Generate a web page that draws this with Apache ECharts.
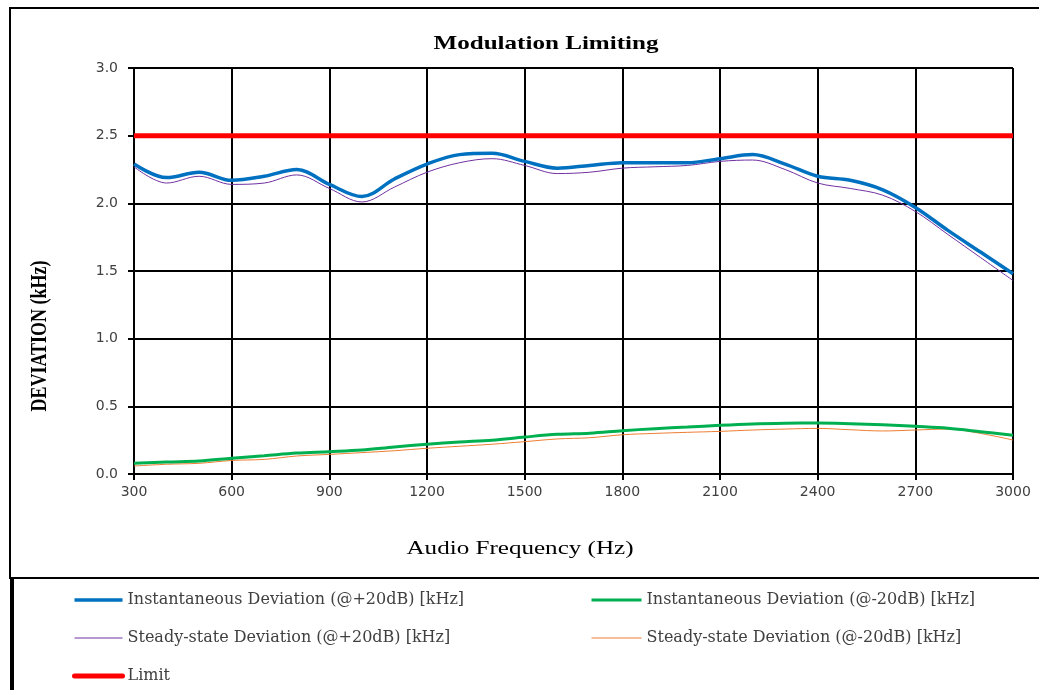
<!DOCTYPE html>
<html><head><meta charset="utf-8">
<script src="https://cdn.jsdelivr.net/npm/echarts@6/dist/echarts.min.js"></script>
<style>html,body{margin:0;padding:0;background:#fff}#c{width:1039px;height:690px}</style>
</head><body><div id="c"></div>
<script>
const freqs = [300,400,500,600,700,800,900,1000,1100,1200,1300,1400,1500,1600,1700,1800,1900,2000,2100,2200,2300,2400,2500,2600,2700,2800,2900,3000];
const instPlus20 = [2.29,2.19,2.23,2.17,2.20,2.25,2.14,2.05,2.18,2.29,2.36,2.37,2.31,2.26,2.28,2.30,2.30,2.30,2.33,2.36,2.29,2.20,2.17,2.10,1.97,1.80,1.64,1.48];
const instMinus20 = [0.079,0.089,0.096,0.116,0.135,0.155,0.165,0.177,0.200,0.220,0.236,0.250,0.273,0.293,0.302,0.320,0.335,0.347,0.360,0.370,0.375,0.377,0.372,0.364,0.352,0.338,0.313,0.286];
const steadyPlus20 = [2.27,2.15,2.20,2.14,2.15,2.21,2.11,2.01,2.12,2.23,2.30,2.33,2.28,2.22,2.23,2.26,2.27,2.28,2.31,2.32,2.25,2.15,2.11,2.06,1.94,1.77,1.60,1.43];
const steadyMinus20 = [0.059,0.072,0.079,0.100,0.108,0.133,0.145,0.158,0.172,0.190,0.205,0.220,0.239,0.259,0.268,0.290,0.300,0.308,0.315,0.325,0.332,0.337,0.327,0.318,0.325,0.332,0.300,0.251];
const limitValue = [2.5,2.5];
const limitFreqs = [300,3000];
const seriesNames = ['Instantaneous Deviation (@+20dB) [kHz]','Instantaneous Deviation (@-20dB) [kHz]','Steady-state Deviation (@+20dB) [kHz]','Steady-state Deviation (@-20dB) [kHz]','Limit'];
const titleText = 'Modulation Limiting';
const xName = 'Audio Frequency (Hz)';
const yName = 'DEVIATION (kHz)';

const pair = (xs, ys) => xs.map((x,i)=>[x, ys[i]]);
const chart = echarts.init(document.getElementById('c'), null, {renderer:'canvas'});
const legendText = {fontFamily: '"DejaVu Serif", serif', fontSize: 16, color: '#404040'};
const tickFont = {fontFamily: '"DejaVu Sans", sans-serif', fontSize: 14, color: '#404040'};
const SX = 1.32;
const lw = {blue: 3.5, green: 3, purple: 1, orange: 1, red: 5};
chart.setOption({
  animation: false,
  grid: {left: 134, right: 26, top: 68, bottom: 216, containLabel: false},
  xAxis: {type: 'value', min: 300, max: 3000, interval: 300,
    axisLine: {show: true, lineStyle: {color: '#000', width: 2}},
    axisTick: {show: true, length: 6, lineStyle: {color: '#000', width: 2}},
    axisLabel: Object.assign({margin: 11, formatter: v => String(v)}, tickFont),
    splitLine: {show: true, lineStyle: {color: '#000', width: 2}}},
  yAxis: {type: 'value', min: 0, max: 3, interval: 0.5,
    axisLine: {show: true, lineStyle: {color: '#000', width: 2}},
    axisTick: {show: true, length: 6, lineStyle: {color: '#000', width: 2}},
    axisLabel: Object.assign({margin: 16, formatter: v => v.toFixed(1)}, tickFont),
    splitLine: {show: true, lineStyle: {color: '#000', width: 2}}},
  legend: [
    {data: [
        {name: seriesNames[0], lineStyle: {width: lw.blue}},
        {name: seriesNames[2], lineStyle: {width: lw.purple}},
        {name: seriesNames[4], lineStyle: {width: lw.red, cap: 'round'}}],
      orient: 'vertical', left: 72, top: 592, padding: 0, height: 98,
      itemWidth: 48, itemHeight: 14, itemGap: 22, textStyle: legendText, itemStyle: {opacity: 0}},
    {data: [
        {name: seriesNames[1], lineStyle: {width: lw.green}},
        {name: seriesNames[3], lineStyle: {width: lw.orange}}],
      orient: 'vertical', left: 590, top: 592, padding: 0, height: 98,
      itemWidth: 50, itemHeight: 14, itemGap: 22, textStyle: legendText, itemStyle: {opacity: 0}}
  ],
  graphic: [
    {type: 'rect', shape: {x: 10, y: 8, width: 1040, height: 570}, style: {fill: 'none', stroke: '#000', lineWidth: 2}, z: 100},
    {type: 'line', shape: {x1: 12, y1: 578, x2: 12, y2: 700}, style: {stroke: '#000', lineWidth: 4}, z: 100},
    {type: 'text', x: 546, y: 44, scaleX: SX, z: 100,
      style: {text: titleText, align: 'center', verticalAlign: 'middle', font: 'bold 19px "Liberation Serif", serif', fill: '#000'}},
    {type: 'text', x: 520, y: 549, scaleX: SX, z: 100,
      style: {text: xName, align: 'center', verticalAlign: 'middle', font: '19px "Liberation Serif", serif', fill: '#000'}},
    {type: 'text', x: 40, y: 336, rotation: Math.PI/2, scaleY: SX, z: 100,
      style: {text: yName, align: 'center', verticalAlign: 'middle', font: 'bold 18px "Liberation Serif", serif', fill: '#000'}}
  ],
  series: [
    {name: seriesNames[4], type: 'line', data: pair(limitFreqs, limitValue), symbol: 'none',
      lineStyle: {color: '#FF0000', width: lw.red}, itemStyle: {color: '#FF0000'}, z: 5},
    {name: seriesNames[0], type: 'line', data: pair(freqs, instPlus20), smooth: 0.35, symbol: 'none',
      lineStyle: {color: '#0070C0', width: lw.blue}, itemStyle: {color: '#0070C0'}, z: 4},
    {name: seriesNames[1], type: 'line', data: pair(freqs, instMinus20), smooth: 0.35, symbol: 'none',
      lineStyle: {color: '#00B050', width: lw.green}, itemStyle: {color: '#00B050'}, z: 4},
    {name: seriesNames[2], type: 'line', data: pair(freqs, steadyPlus20), smooth: 0.35, symbol: 'none',
      lineStyle: {color: '#7030A0', width: lw.purple}, itemStyle: {color: '#7030A0'}, z: 3},
    {name: seriesNames[3], type: 'line', data: pair(freqs, steadyMinus20), smooth: 0.35, symbol: 'none',
      lineStyle: {color: '#ED7D31', width: lw.orange}, itemStyle: {color: '#ED7D31'}, z: 3}
  ]
});
</script></body></html>
